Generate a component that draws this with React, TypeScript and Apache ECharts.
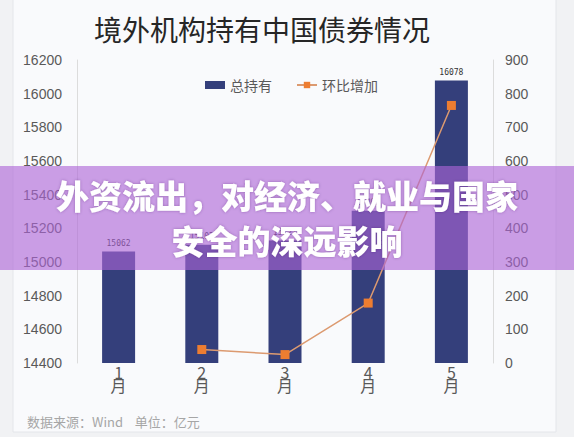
import * as echarts from 'echarts';
import { useEffect, useRef } from 'react';

// 月份
const months = ['1月', '2月', '3月', '4月', '5月'];
// 总持有（亿元）
const totalHolding = [15062, 15102, 15127, 15305, 16078];
// 环比增加（亿元）
const momIncrease: (number | null)[] = [null, 40, 25, 178, 765];

const leftTicks = { min: 14400, max: 16200, interval: 200 };
const rightTicks = { min: 0, max: 900, interval: 100 };

const FONT = '"Liberation Sans", "Noto Sans CJK SC", sans-serif';
const CJK = '"Noto Sans CJK SC", sans-serif';

export default function App() {
  const ref = useRef<HTMLDivElement>(null);

  useEffect(() => {
    if (!ref.current) return;
    const chart = echarts.init(ref.current, undefined, { renderer: 'svg' });
    chart.setOption({
      animation: false,
      backgroundColor: '#f1f2f4',
      textStyle: { fontFamily: FONT },
      grid: { left: 77, right: 81, top: 60, bottom: 74 },
      legend: {
        left: 200,
        top: 73,
        itemGap: 24,
        itemWidth: 20,
        itemHeight: 8,
        textStyle: { fontSize: 14, color: '#595959', fontFamily: CJK },
        data: [
          { name: '总持有', icon: 'rect', itemStyle: { color: '#343f7b' } },
          { name: '环比增加' },
        ],
      },
      xAxis: {
        type: 'category',
        data: months,
        axisLine: { show: false },
        axisTick: { show: false },
        axisLabel: {
          margin: 3,
          fontSize: 16,
          lineHeight: 12,
          color: '#595959',
          fontFamily: CJK,
          formatter: (v: string) => v.replace('月', '\n{m|月}'),
          rich: { m: { fontSize: 16, lineHeight: 14, color: '#595959' } },
        },
      },
      yAxis: [
        {
          type: 'value',
          ...leftTicks,
          axisLine: { show: true, lineStyle: { color: '#dcdcdc' } },
          axisTick: { show: false },
          splitLine: { show: false },
          axisLabel: {
            margin: 15,
            fontSize: 14,
            color: '#595959',
            formatter: (v: number) => String(v),
          },
        },
        {
          type: 'value',
          ...rightTicks,
          position: 'right',
          axisLine: { show: true, lineStyle: { color: '#dcdcdc' } },
          axisTick: { show: false },
          splitLine: { show: false },
          axisLabel: {
            margin: 12,
            fontSize: 14,
            color: '#595959',
            formatter: (v: number) => String(v),
          },
        },
      ],
      series: [
        {
          name: '总持有',
          type: 'bar',
          data: totalHolding,
          barWidth: 33,
          itemStyle: { color: '#343f7b' },
          label: {
            show: true,
            position: 'top',
            distance: 4,
            fontSize: 8,
            color: '#333',
            fontFamily: '"DejaVu Sans Mono", monospace',
          },
        },
        {
          name: '环比增加',
          type: 'line',
          yAxisIndex: 1,
          data: momIncrease,
          symbol: 'rect',
          symbolSize: 9,
          itemStyle: { color: '#ed7d31' },
          lineStyle: { color: '#dc9a70', width: 1.5 },
          z: 3,
        },
      ],
      graphic: [
        {
          type: 'rect',
          z: -10,
          shape: { x: 13, y: -2, width: 543, height: 434 },
          style: { fill: '#f9fafc', stroke: '#e4e6ea', lineWidth: 1 },
        },
        {
          type: 'text',
          x: 262,
          y: 29,
          style: {
            text: '境外机构持有中国债券情况',
            fontSize: 28,
            fill: '#262626',
            fontFamily: CJK,
            align: 'center',
            verticalAlign: 'middle',
          },
        },
        {
          type: 'text',
          x: 27,
          y: 421,
          style: {
            text: '数据来源：Wind    单位：亿元',
            fontSize: 13,
            fill: '#a6a6a6',
            fontFamily: CJK,
            verticalAlign: 'middle',
          },
        },
        {
          type: 'rect',
          z: 100,
          shape: { x: 0, y: 166, width: 574, height: 104 },
          style: { fill: 'rgba(172, 100, 215, 0.62)' },
        },
        {
          type: 'text',
          z: 101,
          x: 287,
          y: 195,
          style: {
            text: '外资流出，对经济、就业与国家',
            fontSize: 33,
            fontWeight: 900,
            fill: '#ffffff',
            fontFamily: CJK,
            align: 'center',
            verticalAlign: 'middle',
            textShadowColor: 'rgba(60, 20, 90, 0.35)',
            textShadowBlur: 3,
          },
        },
        {
          type: 'text',
          z: 101,
          x: 287,
          y: 240,
          style: {
            text: '安全的深远影响',
            fontSize: 33,
            fontWeight: 900,
            fill: '#ffffff',
            fontFamily: CJK,
            align: 'center',
            verticalAlign: 'middle',
            textShadowColor: 'rgba(60, 20, 90, 0.35)',
            textShadowBlur: 3,
          },
        },
      ],
    });
    return () => chart.dispose();
  }, []);

  return (
    <div
      ref={ref}
      style={{ position: 'fixed', left: 0, top: 0, width: 574, height: 437 }}
    />
  );
}
